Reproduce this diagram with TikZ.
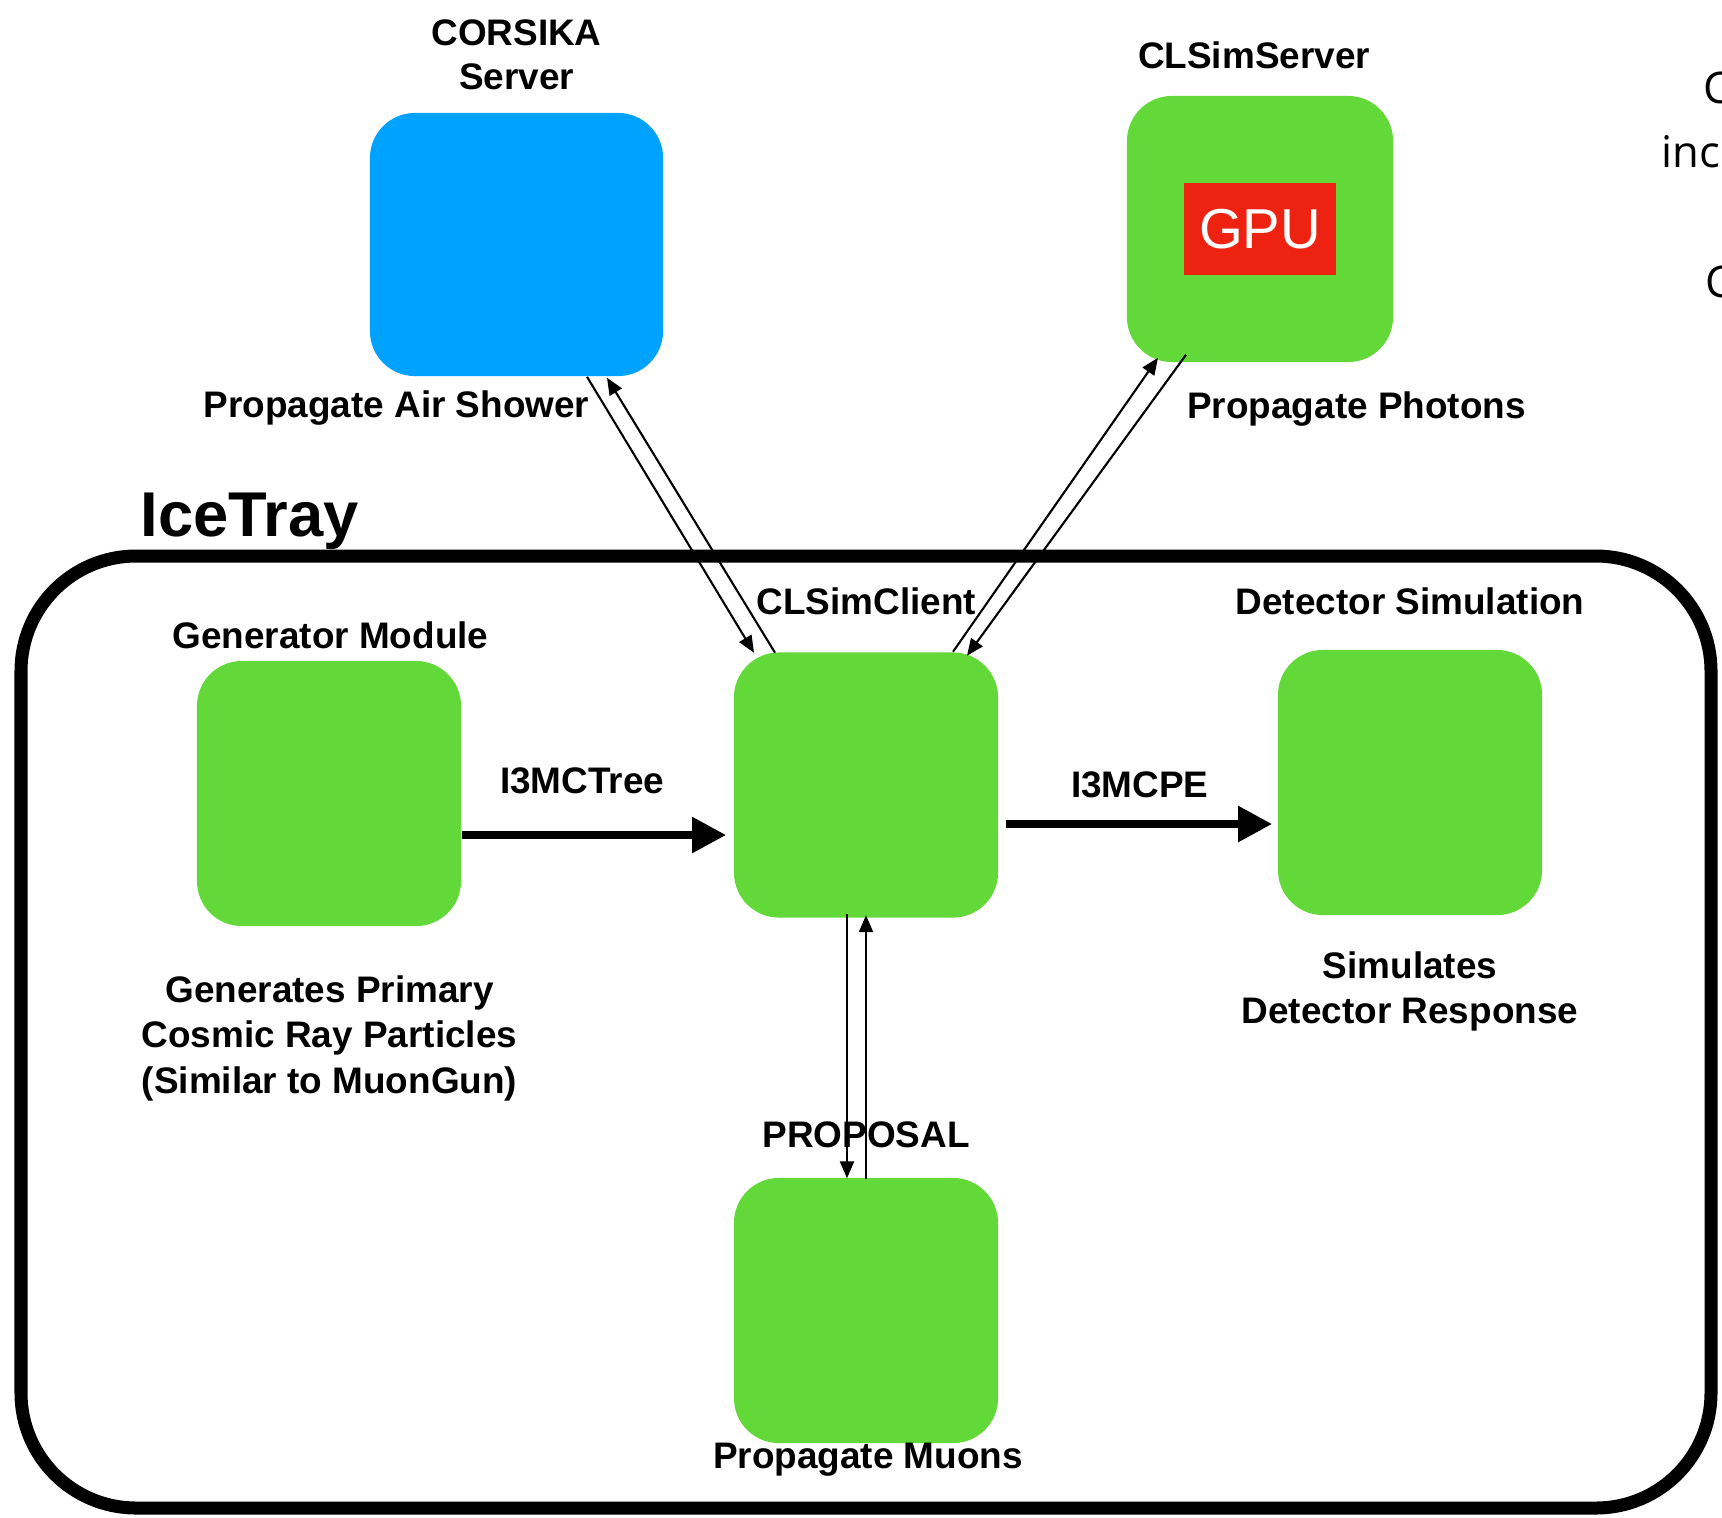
\documentclass[tikz,border=0pt]{standalone}
\usepackage{fontspec}
\setmainfont{Liberation Sans}
\newfontfamily\notefont{Open Sans}
\usetikzlibrary{arrows.meta,calc,positioning}
\definecolor{modgreen}{RGB}{98,217,56}
\definecolor{corsblue}{RGB}{0,162,255}
\definecolor{gpured}{RGB}{238,34,17}

\begin{document}
\begin{tikzpicture}[x=0.01cm,y=-0.01cm,
        module/.style={fill=modgreen, rounded corners=0.45cm, minimum width=2.64cm, minimum height=2.65cm, inner sep=0pt},
        lbl/.style={font=\fontsize{10.5}{13}\selectfont\bfseries, inner sep=0pt, align=center},
        note/.style={font=\notefont\fontsize{12.4}{15}\selectfont, anchor=base west, inner sep=0pt},
        link/.style={line width=0.6pt, -{Triangle[length=4.8pt,width=4pt]}},
        flow/.style={line width=2.3pt, -{Triangle[length=9.7pt,width=9.7pt]}}]

    \useasboundingbox (0,0) rectangle (1722,1517);

    % servers outside icetray
    \node[module, fill=corsblue, minimum width=2.93cm, minimum height=2.63cm] (corsika) at (516.5,244.5) {};
    \node[module, minimum width=2.66cm, minimum height=2.66cm] (server) at (1260,229) {};
    \node[fill=gpured, text=white, minimum width=1.51cm, minimum height=0.92cm, inner sep=0pt,
          font=\fontsize{16}{19}\selectfont] (gpu) at (server.center) {GPU};

    \node[lbl, anchor=north, font=\fontsize{10.5}{12.4}\selectfont\bfseries] (corsikalbl) at ($(corsika.north)+(0,-93)$) {CORSIKA\\Server};
    \node[lbl, anchor=base] (showerlbl) at ($(corsika.south)+(-120,41)$) {Propagate Air Shower};
    \node[lbl, anchor=base] (serverlbl) at ($(server.north)+(-6,-27)$) {CLSimServer};
    \node[lbl, anchor=base] (photonlbl) at ($(server.south)+(96.5,56)$) {Propagate Photons};

    % icetray frame
    \draw[line width=3.7pt, rounded corners=1.15cm] (21,556) rectangle (1711,1508);
    \node[font=\fontsize{18}{21}\selectfont\bfseries, anchor=base west, inner sep=0pt] (icetray) at (140,536) {IceTray};

    % modules
    \node[module] (gen) at (329,793.5) {};
    \node[module] (client) at (866,785) {};
    \node[module] (det) at (1410,782.5) {};
    \node[module] (proposal) at (866,1310.5) {};

    \node[lbl, anchor=base] (genlbl) at ($(gen.north)+(1.5,-12)$) {Generator Module};
    \node[lbl, anchor=north] (gendesc) at ($(gen.south)+(0.5,48)$) {Generates Primary\\Cosmic Ray Particles\\(Similar to MuonGun)};
    \node[lbl, anchor=base] (clientlbl) at ($(client.north)+(0.5,-37)$) {CLSimClient};
    \node[lbl, anchor=base] (detlbl) at ($(det.north)+(0,-35)$) {Detector Simulation};
    \node[lbl, anchor=north] (detdesc) at ($(det.south)+(0,35)$) {Simulates\\Detector Response};
    \node[lbl, anchor=base] (proplbl) at ($(proposal.north)+(0,-30)$) {PROPOSAL};
    \node[lbl, anchor=base] (muonlbl) at ($(proposal.south)+(2,25)$) {Propagate Muons};

    % frame data
    \node[lbl, anchor=base] (treelbl) at ($(gen.east)+(120.5,-0.5)$) {I3MCTree};
    \draw[flow] ($(gen.east)+(0,41.5)$) -- ($(client.west)+(-7,50)$);
    \node[lbl, anchor=base] (pelbl) at ($(client.east)+(141,12)$) {I3MCPE};
    \draw[flow] ($(client.east)+(7,39)$) -- ($(det.west)+(-5,41.5)$);

    % client/server links
    \draw[link] ($(corsika.south)+(70.5,0)$) -- ($(client.north)+(-112,1)$);
    \draw[link] ($(client.north)+(-91,1)$) -- ($(corsika.south)+(90.5,1)$);
    \draw[link] ($(client.north)+(87,0)$) -- ($(server.south)+(-102,-5)$);
    \draw[link] ($(server.south)+(-74,-8)$) -- ($(client.north)+(101,4)$);
    \draw[link] ($(client.south)+(-19,-4)$) -- ($(proposal.north)+(-19,1)$);
    \draw[link] ($(proposal.north)+(0,2)$) -- ($(client.south)+(0,-3)$);

    % cut off text on the right
    \node[note] (note1) at (1703,103) {C};
    \node[note] (note2) at (1661,167) {inc};
    \node[note] (note3) at (1705,297) {C};
\end{tikzpicture}
\end{document}
